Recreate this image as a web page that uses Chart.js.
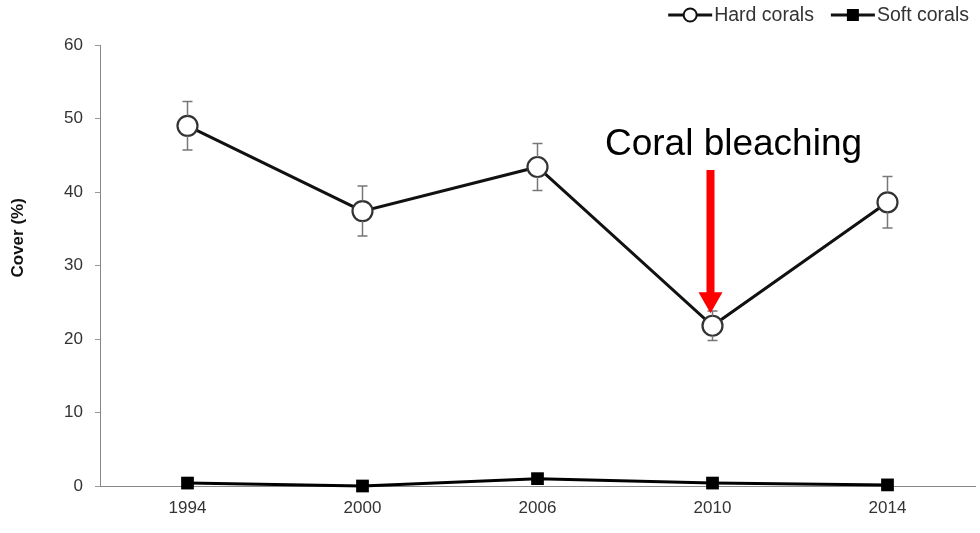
<!DOCTYPE html>
<html>
<head>
<meta charset="utf-8">
<script src="https://cdn.jsdelivr.net/npm/chart.js@4/dist/chart.umd.min.js"></script>
<style>
  html, body { margin: 0; padding: 0; background: #fff; overflow: hidden; }
  #wrap { width: 980px; height: 533px; position: relative; }
</style>
</head>
<body>
<div id="wrap"><canvas id="chart"></canvas></div>
<script>
const years = ["1994", "2000", "2006", "2010", "2014"];
const hardCorals = [49.0, 37.4, 43.4, 21.8, 38.6];
const hardErr = [3.3, 3.4, 3.2, 2.0, 3.5];
const softCorals = [0.4, 0.0, 1.0, 0.4, 0.15];
const yTicks = [0, 10, 20, 30, 40, 50, 60];
const yTitle = "Cover (%)";

const note = { text: "Coral bleaching", index: 3, from: 43, to: 23.5 };

const FONT = "'Liberation Sans', Arial, sans-serif";

// error bars for the hard coral series
const errorBars = {
  id: "errorBars",
  afterDatasetsDraw(chart) {
    const { ctx, scales } = chart;
    const meta = chart.getDatasetMeta(0);
    ctx.save();
    ctx.strokeStyle = "#777";
    ctx.lineWidth = 1.5;
    meta.data.forEach((pt, i) => {
      const top = scales.y.getPixelForValue(hardCorals[i] + hardErr[i]);
      const bot = scales.y.getPixelForValue(hardCorals[i] - hardErr[i]);
      const r = 10;
      ctx.beginPath();
      ctx.moveTo(pt.x, top); ctx.lineTo(pt.x, pt.y - r);
      ctx.moveTo(pt.x, pt.y + r); ctx.lineTo(pt.x, bot);
      ctx.moveTo(pt.x - 5, top); ctx.lineTo(pt.x + 5, top);
      ctx.moveTo(pt.x - 5, bot); ctx.lineTo(pt.x + 5, bot);
      ctx.stroke();
    });
    ctx.restore();
  },
};

// red arrow + label, plus the y title (sits a bit above centre in the original)
const annotations = {
  id: "annotations",
  afterDraw(chart) {
    const { ctx, scales } = chart;
    const x = scales.x.getPixelForValue(note.index) - 2;
    const y1 = scales.y.getPixelForValue(note.from);
    const y2 = scales.y.getPixelForValue(note.to);
    ctx.save();
    ctx.fillStyle = "#000";
    ctx.font = "37px " + FONT;
    ctx.textAlign = "center";
    ctx.textBaseline = "alphabetic";
    ctx.fillText(note.text, x + 23, y1 - 15);
    ctx.strokeStyle = "#ff0000";
    ctx.fillStyle = "#ff0000";
    ctx.lineWidth = 8;
    ctx.beginPath();
    ctx.moveTo(x, y1);
    ctx.lineTo(x, y2 - 19);
    ctx.stroke();
    ctx.beginPath();
    ctx.moveTo(x - 12, y2 - 21);
    ctx.lineTo(x + 12, y2 - 21);
    ctx.lineTo(x, y2);
    ctx.closePath();
    ctx.fill();

    ctx.translate(18, scales.y.getPixelForValue(30.5) - 24);
    ctx.rotate(-Math.PI / 2);
    ctx.fillStyle = "#111";
    ctx.font = "bold 17px " + FONT;
    ctx.textBaseline = "middle";
    ctx.fillText(yTitle, 0, 0);
    ctx.restore();
  },
};

// legend with line + marker swatches, top right
const lineLegend = {
  id: "lineLegend",
  afterDraw(chart) {
    const { ctx } = chart;
    const items = chart.data.datasets;
    ctx.save();
    ctx.font = "19.5px " + FONT;
    ctx.textBaseline = "middle";
    const y = 15;
    const sw = 44;
    const gap = 17;
    const widths = items.map((d) => ctx.measureText(d.label).width);
    const total = widths.reduce((a, b) => a + b, 0) + items.length * (sw + 2) + gap;
    let x = 969 - total;
    items.forEach((d, i) => {
      ctx.strokeStyle = "#111";
      ctx.lineWidth = 3;
      ctx.beginPath();
      ctx.moveTo(x, y); ctx.lineTo(x + sw, y);
      ctx.stroke();
      if (d.pointStyle === "circle") {
        ctx.fillStyle = "#fff";
        ctx.lineWidth = 2;
        ctx.beginPath();
        ctx.arc(x + sw / 2, y, 6.5, 0, Math.PI * 2);
        ctx.fill(); ctx.stroke();
      } else {
        ctx.fillStyle = "#000";
        ctx.fillRect(x + sw / 2 - 6, y - 6, 12, 12);
      }
      ctx.fillStyle = "#333";
      ctx.fillText(d.label, x + sw + 2, y + 1);
      x += sw + 2 + widths[i] + gap;
    });
    ctx.restore();
  },
};

new Chart(document.getElementById("chart"), {
  type: "line",
  data: {
    labels: years,
    datasets: [
      {
        label: "Hard corals",
        data: hardCorals,
        borderColor: "#111",
        borderWidth: 3,
        pointStyle: "circle",
        pointRadius: 10,
        pointBorderWidth: 2.2,
        pointBorderColor: "#333",
        pointBackgroundColor: "#fff",
        tension: 0,
        clip: false,
      },
      {
        label: "Soft corals",
        data: softCorals,
        borderColor: "#000",
        borderWidth: 3,
        pointStyle: "rect",
        pointRadius: 9,
        pointBorderWidth: 0,
        pointBackgroundColor: "#000",
        tension: 0,
        clip: false,
      },
    ],
  },
  options: {
    responsive: true,
    maintainAspectRatio: false,
    animation: false,
    layout: { autoPadding: false, padding: { top: 45, right: 5, left: 0, bottom: 0 } },
    plugins: {
      legend: { display: false },
      tooltip: { enabled: false },
    },
    scales: {
      x: {
        offset: true,
        grid: { display: false, drawTicks: false },
        border: { color: "#888", width: 1 },
        ticks: { color: "#333", font: { family: FONT, size: 17 }, padding: 12 },
        afterFit: (s) => { s.height = 47; s.paddingLeft = 0; s.paddingRight = 0; },
      },
      y: {
        min: 0,
        max: 60,
        afterBuildTicks: (s) => { s.ticks = yTicks.map((v) => ({ value: v })); },
        grid: { display: true, drawOnChartArea: false, drawTicks: true, tickLength: 5, tickColor: "#999" },
        border: { color: "#888", width: 1 },
        ticks: { color: "#333", font: { family: FONT, size: 17 }, padding: 12 },
        afterFit: (s) => { s.width = 100; },
      },
    },
  },
  plugins: [errorBars, annotations, lineLegend],
});
</script>
</body>
</html>
